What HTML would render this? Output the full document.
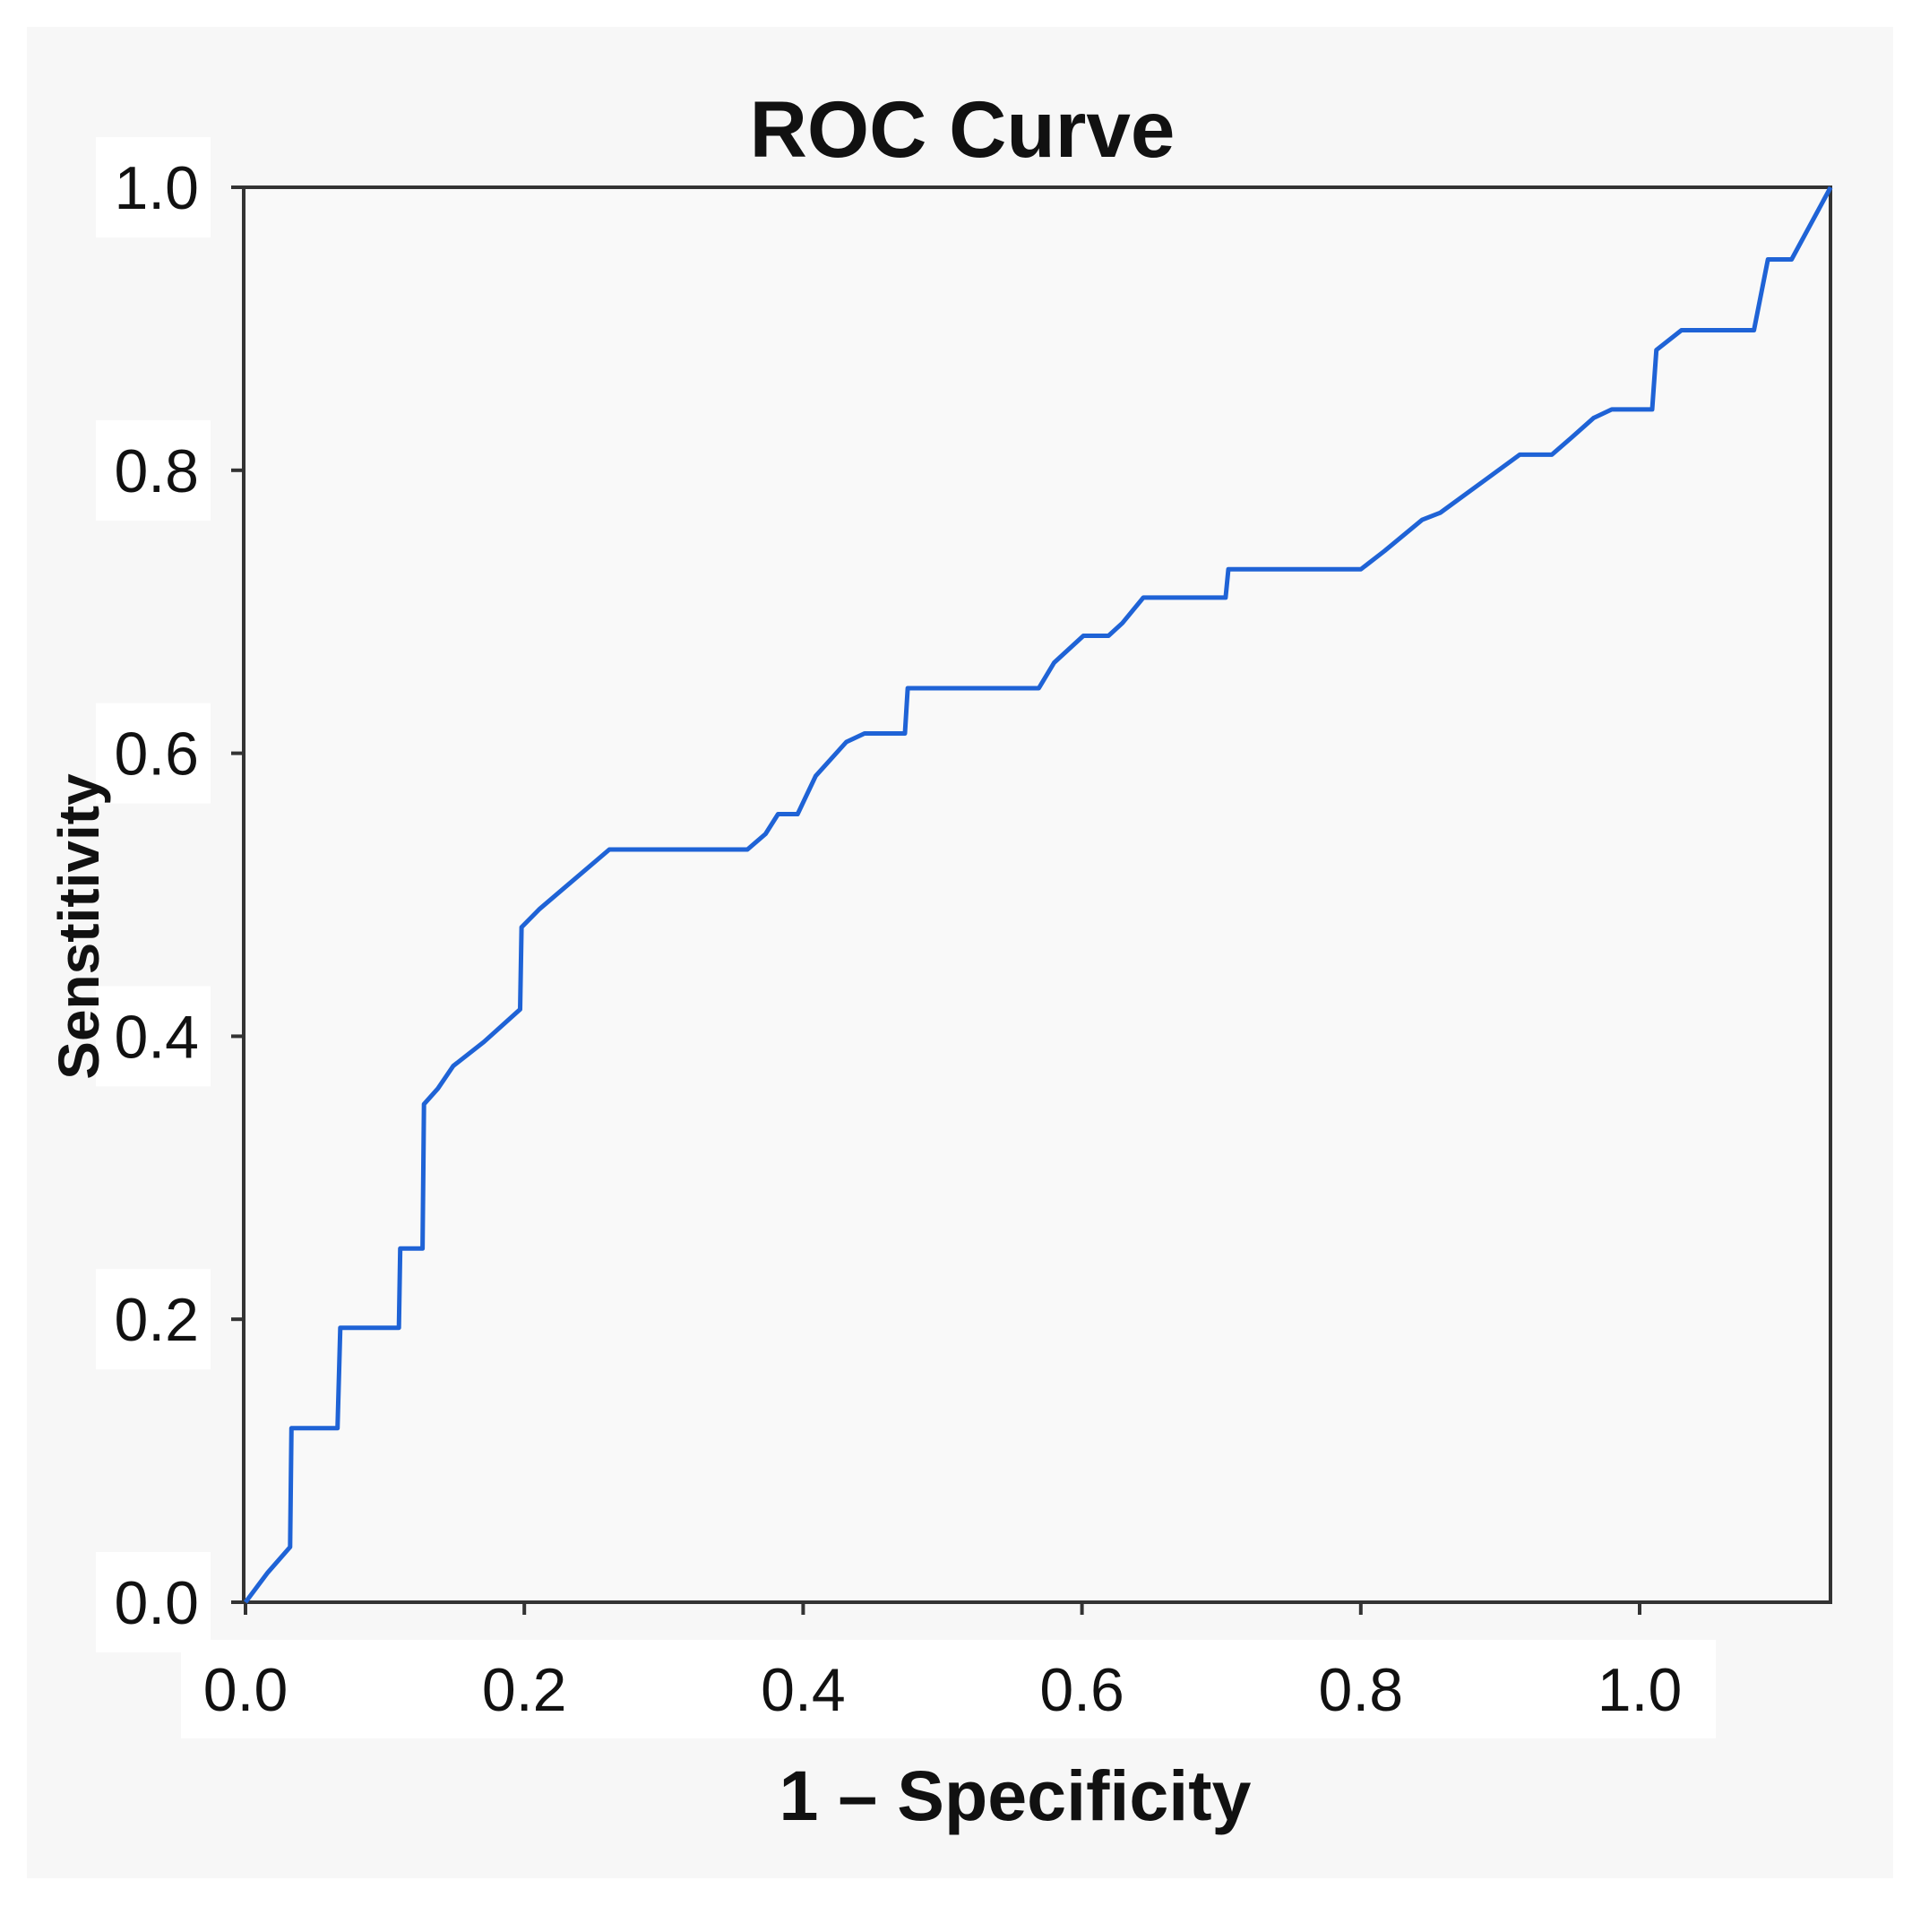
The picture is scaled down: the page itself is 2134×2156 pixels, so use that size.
<!DOCTYPE html>
<html><head><meta charset="utf-8"><style>
html,body{margin:0;padding:0;background:#fff;}
svg{display:block;}
text{font-family:"Liberation Sans",sans-serif;fill:#111;}
</style></head><body>
<svg id="chart" width="2134" height="2156" viewBox="0 0 2134 2156" xmlns="http://www.w3.org/2000/svg">
<rect x="0" y="0" width="2134" height="2156" fill="#ffffff"/>
<rect x="30" y="30" width="2083" height="2066" fill="#f7f7f7"/>
<g id="boxes"></g>
<rect x="272" y="209" width="1771" height="1579" fill="#f9f9f9" stroke="#333" stroke-width="4"/>
<g id="ticks"></g>
<path id="roc" fill="none" stroke="#1f63d6" stroke-width="5" stroke-linejoin="round"/>
<text x="1074" y="175" font-size="89" font-weight="bold" text-anchor="middle">ROC Curve</text>
<text x="1133" y="2031" font-size="79" font-weight="bold" text-anchor="middle">1 – Specificity</text>
<text x="0" y="0" font-size="64" font-weight="bold" text-anchor="middle" transform="translate(110,1034) rotate(-90)">Senstitivity</text>
</svg>
<script>
const fprValues=[0,0.016,0.032,0.033,0.066,0.068,0.110,0.111,0.127,0.128,0.138,0.149,0.171,0.197,0.198,0.211,0.261,0.360,0.373,0.382,0.396,0.409,0.431,0.444,0.473,0.475,0.569,0.580,0.601,0.619,0.629,0.644,0.703,0.705,0.800,0.817,0.844,0.857,0.914,0.937,0.951,0.967,0.980,1.009,1.012,1.030,1.082,1.092,1.109,1.137];
const tprValues=[0,0.021,0.039,0.123,0.123,0.194,0.194,0.250,0.250,0.352,0.363,0.379,0.396,0.419,0.477,0.490,0.532,0.532,0.543,0.557,0.557,0.584,0.608,0.614,0.614,0.646,0.646,0.664,0.683,0.683,0.692,0.710,0.710,0.730,0.730,0.743,0.765,0.770,0.811,0.811,0.823,0.837,0.843,0.843,0.885,0.899,0.899,0.949,0.949,1.0];
const xTicks=[0,0.2,0.4,0.6,0.8,1.0];
const yTicks=[0,0.2,0.4,0.6,0.8,1.0];
const xTickLabels=["0.0","0.2","0.4","0.6","0.8","1.0"];
const yTickLabels=["0.0","0.2","0.4","0.6","0.8","1.0"];

const NS="http://www.w3.org/2000/svg";
function xs(v){return 274+1556*v;}
function ys(v){return 1788-1579*v;}
const boxes=document.getElementById('boxes');
const ticks=document.getElementById('ticks');
function mk(tag,attrs,parent){const e=document.createElementNS(NS,tag);for(const k in attrs)e.setAttribute(k,attrs[k]);parent.appendChild(e);return e;}

const xb=mk('rect',{x:202,y:1830,width:1713,height:110,fill:'#ffffff'},boxes);


yTicks.forEach((v,i)=>{
  const b=mk('rect',{x:107,y:ys(v)-56,width:128,height:112,fill:'#ffffff'},boxes);
  
  
  const t=mk('line',{x1:258,x2:272,y1:ys(v),y2:ys(v),stroke:'#333','stroke-width':4},ticks);
  
  
  const l=mk('text',{x:222,y:ys(v)+24,'font-size':68,'text-anchor':'end'},ticks);
  l.textContent=yTickLabels[i];
  
  
});
xTicks.forEach((v,i)=>{
  const t=mk('line',{x1:xs(v),x2:xs(v),y1:1788,y2:1802,stroke:'#333','stroke-width':4},ticks);
  
  
  const l=mk('text',{x:xs(v),y:1909,'font-size':68,'text-anchor':'middle'},ticks);
  l.textContent=xTickLabels[i];
  
  
});
let d='';
fprValues.forEach((v,i)=>{d+=(i?'L':'M')+xs(v).toFixed(1)+','+ys(tprValues[i]).toFixed(1);});
document.getElementById('roc').setAttribute('d',d);
</script>
</body></html>
